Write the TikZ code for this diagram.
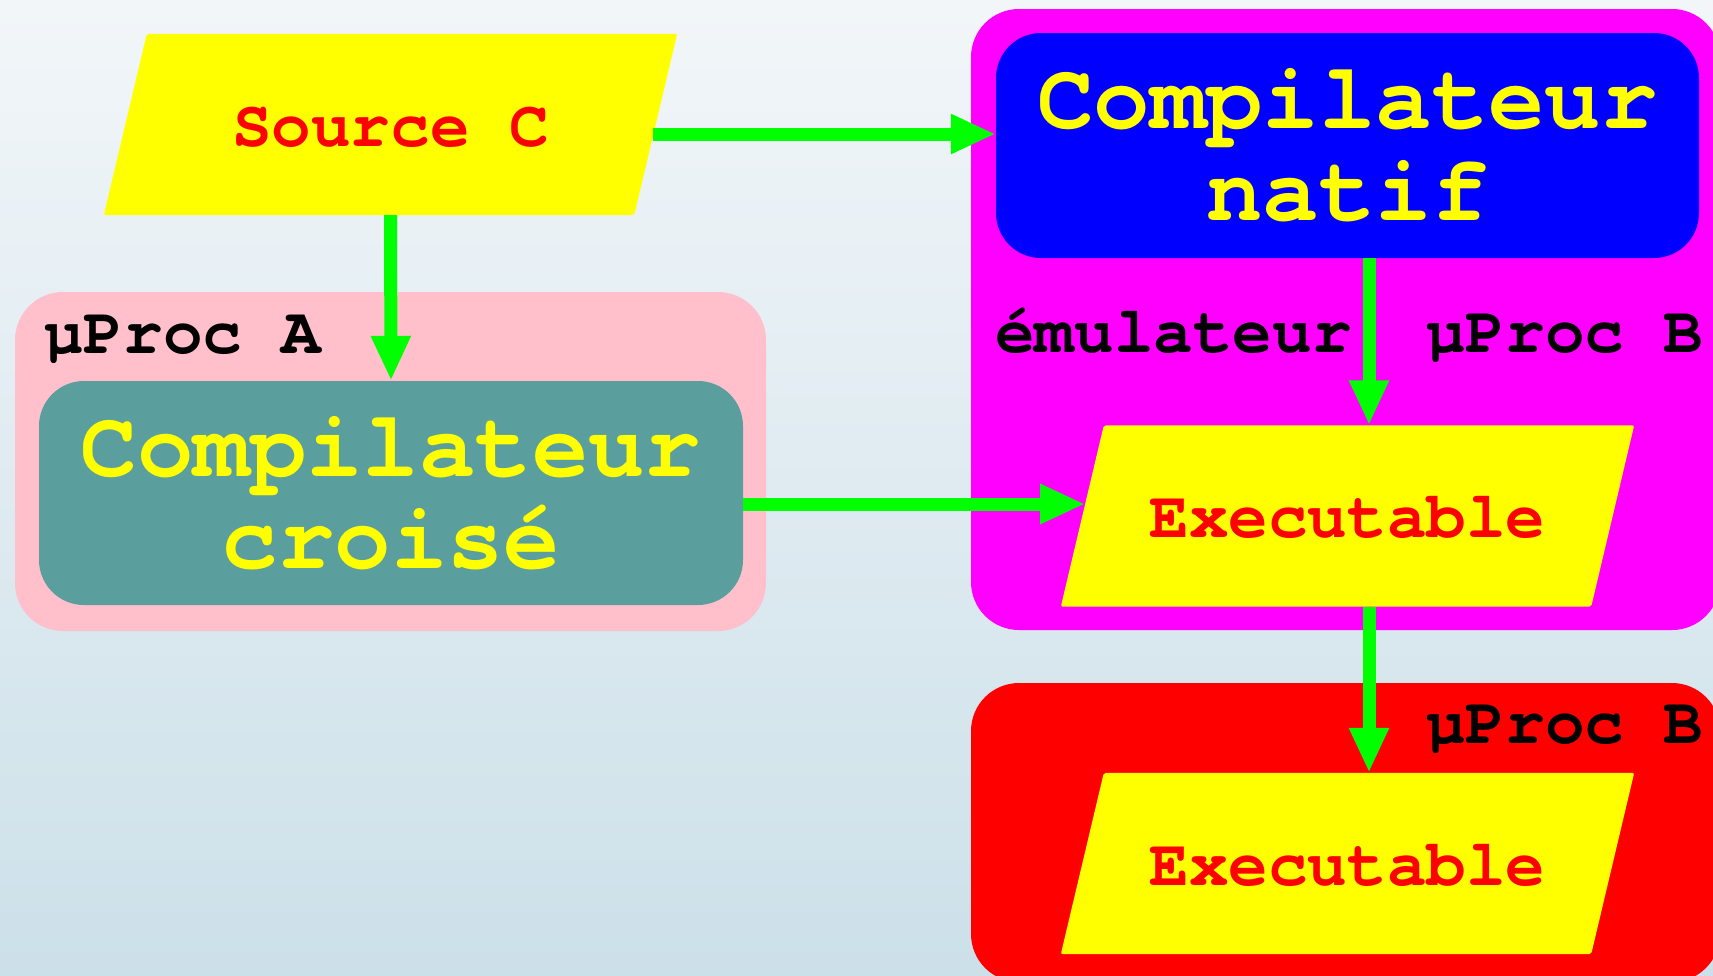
\documentclass[tikz,border=0pt]{standalone}
\usepackage{fontspec}
\setmonofont{texgyrecursor}[Extension=.otf, UprightFont=*-regular, BoldFont=*-bold, ItalicFont=*-italic, BoldItalicFont=*-bolditalic]
\usetikzlibrary{arrows.meta,calc}
\pgfdeclarelayer{back}
\pgfdeclarelayer{mid}
\pgfsetlayers{back,mid,main}
\definecolor{bgtop}{RGB}{242,246,249}
\definecolor{bgbot}{RGB}{204,224,233}
\definecolor{pinkbox}{RGB}{255,192,203}
\definecolor{tealbox}{RGB}{90,158,158}
\definecolor{arrgreen}{RGB}{0,255,0}
\definecolor{magbox}{RGB}{255,0,255}
\definecolor{redbox}{RGB}{255,0,0}
\definecolor{bluebox}{RGB}{0,0,255}
\definecolor{yel}{RGB}{255,255,0}
\newcommand\fsmall{\ttfamily\bfseries\fontsize{66pt}{66pt}\selectfont}
\newcommand\fbig{\ttfamily\bfseries\fontsize{94pt}{92pt}\selectfont}
\newcommand\parfill[1]{%
  \begin{pgfonlayer}{mid}
  \fill[yel, rounded corners=2pt] ($(#1.north west)+(43,0)$) -- (#1.north east)
     -- ($(#1.south east)+(-43,0)$) -- (#1.south west) -- cycle;
  \end{pgfonlayer}}
\begin{document}
\begin{tikzpicture}[x=1pt,y=-1pt,
  container/.style={rectangle, rounded corners=48pt, inner sep=0pt},
  procbox/.style={rectangle, rounded corners=45pt, inner sep=0pt, text=yel, font=\fbig, align=center},
  datapar/.style={rectangle, minimum height=181pt, minimum width=573pt,
     inner sep=0pt, text=redbox, font=\fsmall, text height=43pt, text depth=0pt},
  lbl/.style={inner sep=0pt, font=\fsmall, text=black, anchor=base west},
  arr/.style={draw=arrgreen, line width=13pt, -{Triangle[width=37pt,length=45pt]}}]
\useasboundingbox (0,0) rectangle (1713,975);
\clip (0,0) rectangle (1713,975);
\begin{pgfonlayer}{back}
\shade[top color=bgtop, bottom color=bgbot] (0,0) rectangle (1713,975);
% containers
\node[container, fill=pinkbox, minimum width=751pt, minimum height=339pt] (procA) at (390.5,461.5) {};
\node[container, fill=magbox, minimum width=749pt, minimum height=621pt] (emul) at (1345.5,319.5) {};
\node[container, fill=redbox, minimum width=749pt, minimum height=299pt] (procB) at (1345.5,832.5) {};
\end{pgfonlayer}
% labels
\node[lbl] (labA) at (44,353) {µProc A};
\node[lbl] (labEmul) at (995,352) {émulateur};
\node[lbl] (labB1) at (1426,352) {µProc B};
\node[lbl] (labB2) at (1426,743) {µProc B};
% processes
\node[procbox, fill=bluebox, minimum width=703pt, minimum height=225pt] (natif) at (1347.5,145.5) {Compilateur\\natif};
\node[procbox, fill=tealbox, minimum width=704pt, minimum height=224pt] (croise) at (391,493) {Compilateur\\croisé};
% data
\node[datapar] (srcC) at (390.5,124.5) {Source C};
\node[datapar] (exec1) at (1347.5,516) {Executable};
\node[datapar] (exec2) at (1347.5,863.5) {Executable};
\parfill{srcC}
\parfill{exec1}
\parfill{exec2}
% connectors
\draw[arr] ($(srcC.east)+(-24,9.5)$) -- ($(natif.west)+(0,-11.5)$);
\draw[arr] (srcC.south) -- (croise.north);
\draw[arr] ($(croise.east)+(0,11)$) -- ($(exec1.west)+(24.4,-12)$);
\draw[arr] ($(natif.south)+(21.5,0)$) -- ($(exec1.north)+(21.5,0)$);
\draw[arr] ($(exec1.south)+(21.5,0)$) -- ($(exec2.north)+(21.5,0)$);
\end{tikzpicture}
\end{document}
